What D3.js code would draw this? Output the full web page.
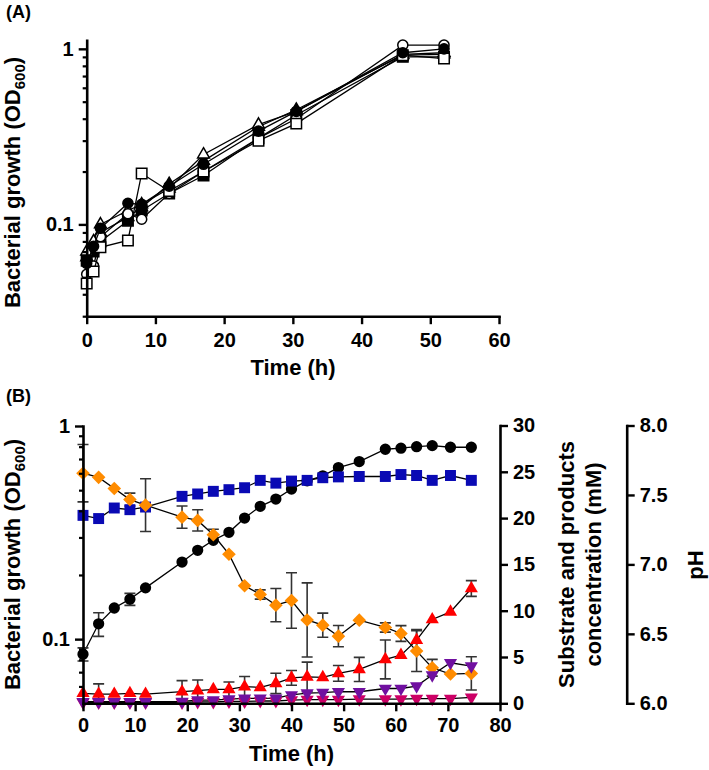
<!DOCTYPE html>
<html><head><meta charset="utf-8">
<script src="https://cdn.jsdelivr.net/npm/d3@7"></script>
<style>
body{margin:0;background:#fff;}
svg text{font-family:"Liberation Sans",Arial,sans-serif;font-weight:bold;fill:#000;}
</style></head><body>
<svg id="c" width="709" height="770"></svg>
<script>
// ---------- Panel A data ----------
const timeA = [0, 1, 2, 6, 8, 12, 17, 25, 30.5, 46, 52];
const odOpenCircle   = [0.052, 0.058, 0.085, 0.115, 0.107, 0.150, 0.200, 0.310, 0.400, 1.050, 1.050];
const odFilledCircle = [0.060, 0.075, 0.095, 0.132, 0.130, 0.165, 0.220, 0.340, 0.440, 0.950, 1.000];
const odOpenSquare   = [0.046, 0.054, 0.074, 0.081, 0.195, 0.155, 0.200, 0.300, 0.375, 0.920, 0.880];
const odFilledSquare = [0.062, 0.070, 0.080, 0.105, 0.120, 0.150, 0.190, 0.310, 0.420, 0.900, 0.900];
const odOpenTriangle = [0.070, 0.080, 0.100, 0.120, 0.130, 0.160, 0.250, 0.370, 0.440, 0.930, 0.950];
const odFilledTriangle = [0.065, 0.075, 0.090, 0.110, 0.125, 0.170, 0.230, 0.360, 0.450, 0.920, 0.930];
const xTicksA = [0, 10, 20, 30, 40, 50, 60];
const yMajorA = [0.1, 1];
const yMinorA = [0.03, 0.04, 0.05, 0.06, 0.07, 0.08, 0.09, 0.2, 0.3, 0.4, 0.5, 0.6, 0.7, 0.8, 0.9];

// ---------- Panel B data ----------
const timeB = [0, 3, 6, 9, 12, 19, 22, 25, 28, 31, 34, 37, 40, 43, 46, 49, 53, 58, 61, 64, 67, 70.5, 74.5];
const odB    = [0.085, 0.118, 0.140, 0.154, 0.174, 0.230, 0.261, 0.291, 0.317, 0.370, 0.420, 0.454, 0.506, 0.553, 0.584, 0.638, 0.681, 0.778, 0.787, 0.800, 0.809, 0.795, 0.795];
const odBErr = [0.006, 0.015, 0, 0.010, 0, 0, 0, 0, 0, 0, 0, 0, 0, 0, 0, 0, 0, 0, 0, 0, 0, 0, 0];
const phB    = [7.353, 7.330, 7.406, 7.394, 7.413, 7.490, 7.507, 7.526, 7.538, 7.552, 7.605, 7.585, 7.600, 7.605, 7.624, 7.630, 7.633, 7.633, 7.647, 7.640, 7.605, 7.640, 7.605];
const substrateB    = [24.85, 24.4, 23.2, 22.0, 21.4, 20.1, 19.75, 18.2, 16.1, 12.7, 11.75, 10.6, 11.1, 9.0, 8.44, 7.25, 8.98, 8.19, 7.54, 5.64, 3.84, 3.16, 3.23];
const substrateBErr = [3.1, 0, 0, 0.7, 2.85, 1.2, 1.15, 0.6, 0, 0, 0.5, 1.8, 3.0, 4.0, 1.3, 1.15, 0, 0.5, 0.85, 2.2, 0.9, 0, 1.8];
const productRed    = [1.08, 1.0, 1.0, 1.08, 1.0, 1.25, 1.36, 1.5, 1.5, 1.79, 1.72, 2.15, 2.75, 2.85, 2.8, 3.23, 3.66, 4.74, 5.2, 6.82, 9.05, 9.87, 12.4];
const productRedErr = [0, 1.1, 0, 0, 0, 1.2, 1.15, 0, 0.8, 1.1, 0, 1.1, 0.8, 1.6, 0, 0.85, 1.3, 2.1, 0, 1.15, 0, 0, 0.85];
const productPurple = [0.17, 0.17, 0.17, 0.17, 0.17, 0.2, 0.35, 0.35, 0.45, 0.53, 0.53, 0.55, 0.9, 1.1, 1.15, 1.25, 1.25, 1.6, 1.6, 1.86, 3.05, 4.38, 4.02];
const productMagenta = [0.1, 0.1, 0.1, 0.1, 0.1, 0.1, 0.15, 0.15, 0.2, 0.2, 0.25, 0.25, 0.35, 0.4, 0.4, 0.4, 0.45, 0.45, 0.45, 0.5, 0.5, 0.5, 0.65];
const xTicksB = [0, 10, 20, 30, 40, 50, 60, 70, 80];
const yMajorB = [0.1, 1];
const yMinorB = [0.06, 0.07, 0.08, 0.09, 0.2, 0.3, 0.4, 0.5, 0.6, 0.7, 0.8, 0.9];
const mmTicks = [0, 5, 10, 15, 20, 25, 30];
const phTicks = [6.0, 6.5, 7.0, 7.5, 8.0];

// ---------- drawing ----------
const svg = d3.select("#c");
svg.append("rect").attr("width", 709).attr("height", 770).attr("fill", "#fff");
const FONT = '"Liberation Sans", Arial, sans-serif';

function styleAxis(g, fs) {
  g.attr("font-family", FONT).attr("font-size", fs || 20).attr("font-weight", "bold");
  g.select(".domain").attr("stroke", "#000").attr("stroke-width", 2.6).attr("stroke-linecap", "square");
  g.selectAll(".tick line").attr("stroke", "#000").attr("stroke-width", 2.4);
  g.selectAll(".tick text").attr("fill", "#000");
}
function minorAxis(axis, transform) {
  const g = svg.append("g").attr("transform", transform).call(axis);
  g.select(".domain").remove();
  g.selectAll(".tick line").attr("stroke", "#000").attr("stroke-width", 2.2);
}
const diamondPath = r => `M0,${-r}L${r},0L0,${r}L${-r},0Z`;
const symPath = (type, size) => d3.symbol().type(type).size(size)();

// ===== Panel A =====
const xA = d3.scaleLinear().domain([0, 60]).range([86.7, 499]);
const yA = d3.scaleLog().domain([0.03, 1.12]).range([316.2, 40.2]);

const seriesA = [
  {v: odFilledSquare, shape: "square", fill: "#000"},
  {v: odFilledTriangle, shape: "triangle", fill: "#000"},
  {v: odOpenTriangle, shape: "triangle", fill: "#fff"},
  {v: odOpenCircle, shape: "circle", fill: "#fff"},
  {v: odOpenSquare, shape: "square", fill: "#fff"},
  {v: odFilledCircle, shape: "circle", fill: "#000"}
];
function shapeA(s) {
  if (s === "square") return symPath(d3.symbolSquare, 110);
  if (s === "triangle") return symPath(d3.symbolTriangle, 60);
  return symPath(d3.symbolCircle, 80);
}
const gPA = svg.append("g");
seriesA.forEach(s => {
  const line = d3.line().x((d, i) => xA(timeA[i])).y(d => yA(d));
  gPA.append("path").attr("d", line(s.v)).attr("fill", "none").attr("stroke", "#000").attr("stroke-width", 1.3);
  gPA.selectAll(null).data(s.v).enter().append("path")
    .attr("transform", (d, i) => `translate(${xA(timeA[i])},${yA(d)})`)
    .attr("d", shapeA(s.shape))
    .attr("fill", s.fill).attr("stroke", "#000").attr("stroke-width", 1.5);
});

minorAxis(d3.axisLeft(yA).tickValues(yMinorA).tickSize(4).tickFormat(""), `translate(${xA(0)},0)`);
const gAy = svg.append("g").attr("transform", `translate(${xA(0)},0)`)
  .call(d3.axisLeft(yA).tickValues(yMajorA).tickSize(8).tickPadding(5).tickSizeOuter(0)
    .tickFormat(d => d === 1 ? "1" : "0.1"));
styleAxis(gAy);
const gAx = svg.append("g").attr("transform", `translate(0,${yA(0.03)})`)
  .call(d3.axisBottom(xA).tickValues(xTicksA).tickSize(8).tickPadding(9).tickSizeOuter(0));
styleAxis(gAx);

svg.append("text").attr("x", 6).attr("y", 18).attr("font-size", 18).text("(A)");
const ylabA = svg.append("text").attr("transform", "translate(20,182.5) rotate(-90)")
  .attr("text-anchor", "middle").attr("font-size", 22);
ylabA.append("tspan").text("Bacterial growth (OD");
ylabA.append("tspan").attr("font-size", 15).attr("dy", 5).text("600");
ylabA.append("tspan").attr("dy", -5).text(")");
svg.append("text").attr("x", 293).attr("y", 375).attr("text-anchor", "middle").attr("font-size", 22).text("Time (h)");

// ===== Panel B =====
const xB = d3.scaleLinear().domain([0, 80]).range([83, 500]);
const yB = d3.scaleLog().domain([0.05, 1]).range([703.3, 426]);
const yR = d3.scaleLinear().domain([0, 30]).range([703.3, 425.5]);
const yP = d3.scaleLinear().domain([6, 8]).range([703.3, 425.5]);

const seriesB = [
  {v: odB, err: odBErr, y: yB, shape: "circle", color: "#000000"},
  {v: phB, err: null, y: yP, shape: "square", color: "#0a0ab4"},
  {v: substrateB, err: substrateBErr, y: yR, shape: "diamond", color: "#ff8c00"},
  {v: productRed, err: productRedErr, y: yR, shape: "triangle", color: "#ff0000"},
  {v: productMagenta, err: null, y: yR, shape: "down", color: "#cc0066"},
  {v: productPurple, err: null, y: yR, shape: "down", color: "#7010a0"}
];
function shapeB(s) {
  if (s === "square") return symPath(d3.symbolSquare, 120);
  if (s === "diamond") return diamondPath(6.8);
  if (s === "triangle" || s === "down") return symPath(d3.symbolTriangle, 75);
  return symPath(d3.symbolCircle, 100);
}
const gPB = svg.append("g");
seriesB.forEach(s => {
  const line = d3.line().x((d, i) => xB(timeB[i])).y(d => s.y(d));
  gPB.append("path").attr("d", line(s.v)).attr("fill", "none").attr("stroke", "#000").attr("stroke-width", 1.3);
});
seriesB.forEach(s => {
  if (s.err) {
    s.v.forEach((d, i) => {
      const e = s.err[i];
      if (!e) return;
      const x = xB(timeB[i]);
      const y1 = s.y(Math.max(d - e, s.y.domain()[0])), y2 = s.y(d + e);
      gPB.append("path")
        .attr("d", `M${x},${y1}V${y2}M${x - 5.5},${y2}H${x + 5.5}M${x - 5.5},${y1}H${x + 5.5}`)
        .attr("stroke", "#333").attr("stroke-width", 1.6).attr("fill", "none");
    });
  }
});
seriesB.forEach(s => {
  gPB.selectAll(null).data(s.v).enter().append("path")
    .attr("transform", (d, i) => `translate(${xB(timeB[i])},${s.y(d)})` + (s.shape === "down" ? " rotate(180)" : ""))
    .attr("d", shapeB(s.shape))
    .attr("fill", s.color).attr("stroke", "none");
});

minorAxis(d3.axisLeft(yB).tickValues(yMinorB).tickSize(4).tickFormat(""), `translate(${xB(0)},0)`);
const gBy = svg.append("g").attr("transform", `translate(${xB(0)},0)`)
  .call(d3.axisLeft(yB).tickValues(yMajorB).tickSize(8).tickPadding(5).tickSizeOuter(0)
    .tickFormat(d => d === 1 ? "1" : "0.1"));
styleAxis(gBy);
const gBx = svg.append("g").attr("transform", `translate(0,${yB(0.05)})`)
  .call(d3.axisBottom(xB).tickValues(xTicksB).tickSize(8).tickPadding(7).tickSizeOuter(0));
styleAxis(gBx);
const gBr = svg.append("g").attr("transform", `translate(${xB(80)},0)`)
  .call(d3.axisRight(yR).tickValues(mmTicks).tickSize(8).tickPadding(5).tickSizeOuter(0));
styleAxis(gBr);
const gBp = svg.append("g").attr("transform", `translate(626.7,0)`)
  .call(d3.axisRight(yP).tickValues(phTicks).tickSize(8).tickPadding(5).tickSizeOuter(0).tickFormat(d3.format(".1f")));
styleAxis(gBp);

svg.append("text").attr("x", 6).attr("y", 402).attr("font-size", 18).text("(B)");
const ylabB = svg.append("text").attr("transform", "translate(20,564.5) rotate(-90)")
  .attr("text-anchor", "middle").attr("font-size", 22);
ylabB.append("tspan").text("Bacterial growth (OD");
ylabB.append("tspan").attr("font-size", 15).attr("dy", 5).text("600");
ylabB.append("tspan").attr("dy", -5).text(")");
svg.append("text").attr("x", 291.5).attr("y", 761).attr("text-anchor", "middle").attr("font-size", 22).text("Time (h)");
svg.append("text").attr("transform", "translate(574,564.5) rotate(-90)").attr("text-anchor", "middle").attr("font-size", 22).text("Substrate and products");
svg.append("text").attr("transform", "translate(601,564.5) rotate(-90)").attr("text-anchor", "middle").attr("font-size", 22).text("concentration (mM)");
svg.append("text").attr("transform", "translate(703,565) rotate(-90)").attr("text-anchor", "middle").attr("font-size", 22).text("pH");
</script>
</body></html>
